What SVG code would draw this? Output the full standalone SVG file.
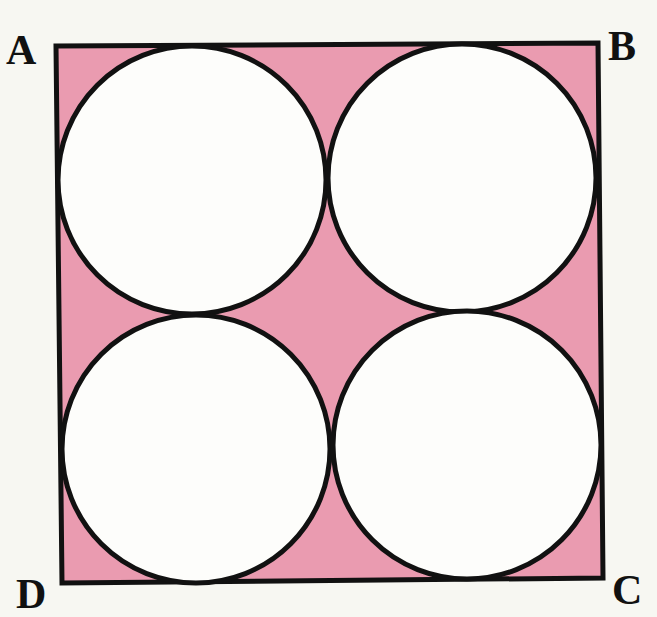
<svg xmlns="http://www.w3.org/2000/svg" width="657" height="617" viewBox="0 0 657 617">
<style>
.lbl{font-family:"Liberation Serif","DejaVu Serif",serif;font-weight:bold;font-size:42px;fill:#111}
.c{fill:#fdfdfb;stroke:#111;stroke-width:5}
</style>
<rect width="657" height="617" fill="#f7f7f2"/>
<g id="square"><polygon points="56,46 598,43 603,578 62,583" fill="#ea9bb0" stroke="#111" stroke-width="5" stroke-linejoin="miter"/></g>
<g id="circle-tl"><circle class="c" cx="192" cy="180" r="134"/></g>
<g id="circle-tr"><circle class="c" cx="462" cy="178" r="134"/></g>
<g id="circle-bl"><circle class="c" cx="196" cy="449" r="134"/></g>
<g id="circle-br"><circle class="c" cx="467" cy="445" r="134"/></g>
<g id="labels">
<text class="lbl" x="6" y="64">A</text>
<text class="lbl" x="608" y="60">B</text>
<text class="lbl" x="612" y="604">C</text>
<text class="lbl" x="16" y="608">D</text>
</g>
</svg>
